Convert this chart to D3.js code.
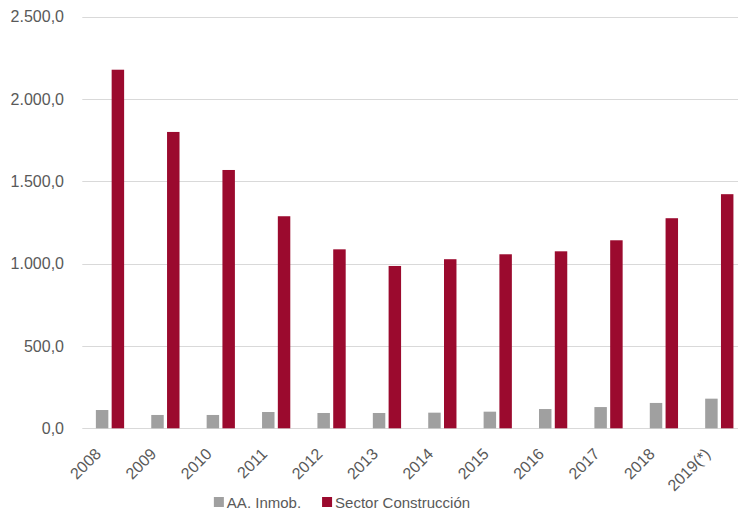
<!DOCTYPE html>
<html>
<head>
<meta charset="utf-8">
<script src="https://cdn.jsdelivr.net/npm/d3@7"></script>
<style>
  body { margin: 0; background: #fff; }
  text { font-family: "Liberation Sans", Arial, sans-serif; fill: #595959; }
</style>
</head>
<body>
<div id="chart"></div>
<script>
var years = ["2008", "2009", "2010", "2011", "2012", "2013", "2014", "2015", "2016", "2017", "2018", "2019(*)"];
var seriesNames = ["AA. Inmob.", "Sector Construcción"];
var inmob = [111, 81, 81, 99, 93, 93, 95, 101, 117, 129, 154, 180];
var construccion = [2178, 1800, 1569, 1288, 1087, 986, 1027, 1057, 1075, 1142, 1276, 1422];
var yTicks = [0, 500, 1000, 1500, 2000, 2500];
var colors = ["#a0a0a0", "#9b0a2e"];

var chartWidth = 738, chartHeight = 513;
var plotLeft = 82.3, plotRight = 747, plotTop = 16.7, plotBottom = 428.3;

var svg = d3.select("#chart").append("svg")
  .attr("width", chartWidth)
  .attr("height", chartHeight);

var x = d3.scaleBand().domain(years).range([plotLeft, plotRight]).padding(0);
var x1 = d3.scaleBand().domain(seriesNames).range([0, x.bandwidth()])
  .paddingInner(0.21).paddingOuter(0.86);
var y = d3.scaleLinear().domain([0, 2500]).range([plotBottom, plotTop]);

var fmt = function(v) {
  return d3.format(",.1f")(v).replace(/,/g, "#").replace(".", ",").replace(/#/g, ".");
};

// gridlines
svg.append("g").selectAll("line")
  .data(yTicks)
  .enter().append("line")
  .attr("x1", plotLeft)
  .attr("x2", plotRight)
  .attr("y1", function(d) { return Math.round(y(d)) + 0.5; })
  .attr("y2", function(d) { return Math.round(y(d)) + 0.5; })
  .attr("stroke", "#d9d9d9")
  .attr("stroke-width", 1.2);

// y labels
svg.append("g").selectAll("text")
  .data(yTicks)
  .enter().append("text")
  .attr("x", 64)
  .attr("y", function(d) { return y(d); })
  .attr("dy", "0.36em")
  .attr("text-anchor", "end")
  .style("font-size", "16px")
  .text(function(d) { return fmt(d); });

// bars
var rows = years.map(function(yr, i) {
  return { year: yr, values: [inmob[i], construccion[i]] };
});

var groups = svg.append("g").selectAll("g.year")
  .data(rows)
  .enter().append("g")
  .attr("class", "year")
  .attr("transform", function(d) { return "translate(" + x(d.year) + ",0)"; });

groups.selectAll("rect")
  .data(function(d) { return d.values.map(function(v, j) { return { name: seriesNames[j], value: v, j: j }; }); })
  .enter().append("rect")
  .attr("x", function(d) { return x1(d.name); })
  .attr("width", x1.bandwidth())
  .attr("y", function(d) { return y(d.value); })
  .attr("height", function(d) { return plotBottom - y(d.value); })
  .attr("fill", function(d) { return colors[d.j]; });

// x labels
svg.append("g").selectAll("text")
  .data(years)
  .enter().append("text")
  .attr("transform", function(d) {
    return "translate(" + (x(d) + x.bandwidth() / 2 - 8) + ",455) rotate(-45)";
  })
  .attr("text-anchor", "end")
  .style("font-size", "16px")
  .text(function(d) { return d; });

// legend
var legend = svg.append("g");
var items = legend.selectAll("g")
  .data(seriesNames)
  .enter().append("g");

items.append("rect")
  .attr("width", 10)
  .attr("height", 10)
  .attr("y", 497)
  .attr("fill", function(d, i) { return colors[i]; });

items.append("text")
  .attr("x", 13)
  .attr("y", 508)
  .style("font-size", "15px")
  .text(function(d) { return d; });

var pos = 0, offsets = [];
items.each(function() {
  offsets.push(pos);
  pos += 13 + d3.select(this).select("text").node().getComputedTextLength() + 21;
});
var total = pos - 21;
var start = 342 - total / 2;
items.attr("transform", function(d, i) { return "translate(" + (start + offsets[i]) + ",0)"; });
</script>
</body>
</html>
